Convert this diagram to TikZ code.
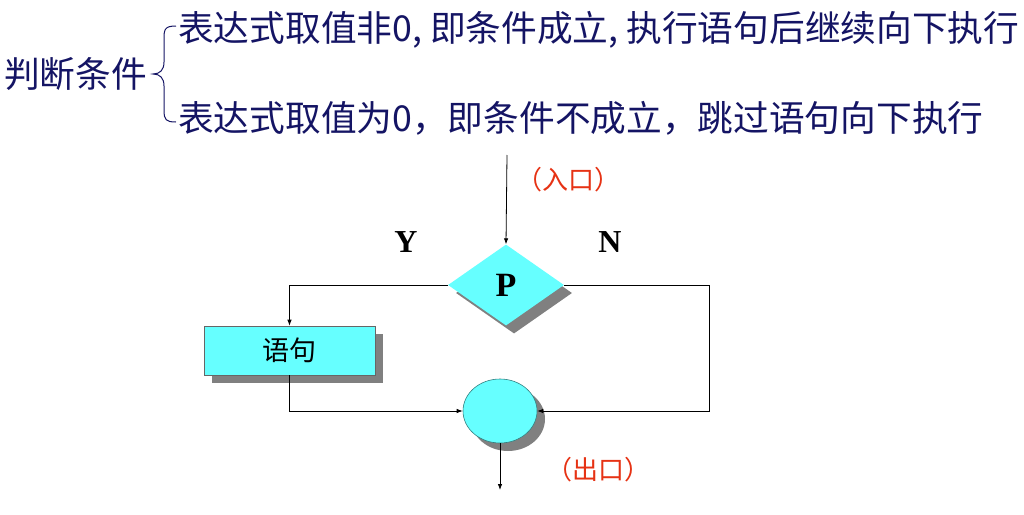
\documentclass[tikz,border=0pt]{standalone}
\usepackage{fontspec}
\setmainfont{Liberation Serif}
\newfontfamily\cjk{Noto Sans CJK SC}
\usetikzlibrary{shapes.geometric,shadows,arrows.meta}
\definecolor{navy}{RGB}{20,20,100}
\definecolor{cyanfill}{RGB}{102,255,255}
\definecolor{shadowgray}{RGB}{128,128,128}
\definecolor{redlab}{RGB}{230,50,20}
\begin{document}
\begin{tikzpicture}[x=1pt,y=-1pt,
  toptext/.style={font=\cjk\fontsize{35.7}{40}\selectfont, text=navy, inner sep=0pt},
  shad/.style={drop shadow={shadow xshift=8pt,shadow yshift=-8pt,fill=shadowgray,opacity=1}},
  flow/.style={draw=black, line width=0.8pt, -{Latex[length=6pt,width=4.5pt]}},
  redtext/.style={font=\cjk\fontsize{26}{30}\selectfont, text=redlab, inner sep=0pt},
  yn/.style={font=\bfseries\fontsize{32}{36}\selectfont, inner sep=0pt}]
\useasboundingbox (0,0) rectangle (1024,514);
\node[toptext, anchor=west] (t1) at (178,30) {表达式取值非0, 即条件成立, 执行语句后继续向下执行};
\node[toptext, anchor=west] (t2) at (178,118) {表达式取值为0，即条件不成立，跳过语句向下执行};
\node[toptext, anchor=west] (t0) at (4,74) {判断条件};
\draw[navy, line width=1pt] (176,26) .. controls (164,26) and (164,30) .. (164,40)
  -- (164,62) .. controls (164,70) and (160,74) .. (153,74)
  .. controls (160,74) and (164,78) .. (164,86) -- (164,110)
  .. controls (164,120) and (166,122) .. (176,122);
% flowchart
\node[diamond, shad, fill=cyanfill, minimum width=116pt, minimum height=81pt, aspect=1.43, inner sep=0pt,
  font=\bfseries\fontsize{34}{38}\selectfont] (d) at (506,285) {P};
\node[rectangle, shad, fill=cyanfill, draw=black!60, line width=0.6pt, minimum width=171pt, minimum height=49pt,
  font=\cjk\fontsize{27}{30}\selectfont] (s) at (289.5,350.5) {语句};
\node[ellipse, shad, fill=cyanfill, draw=teal!60!gray, line width=0.6pt, minimum width=74pt, minimum height=64pt, inner sep=0pt] (c) at (500,411) {};
\coordinate (in) at (507,155);
\coordinate (r) at (709,285);
\coordinate (out) at (500,490);
\draw[flow] (in) -- (d.north);
\draw[flow] (d.west) -| (s.north);
\draw[flow] (s.south) |- (c.west);
\draw[draw=black, line width=0.8pt] (d.east) -- (r);
\draw[flow] (r) |- (c.east);
\draw[flow] (c.south) -- (out);
\node[redtext] (lin) at (568,180) {（入口）};
\node[redtext] (lout) at (598,470) {（出口）};
\node[yn] (y) at (406,242) {Y};
\node[yn] (n) at (610,242) {N};
\end{tikzpicture}
\end{document}
